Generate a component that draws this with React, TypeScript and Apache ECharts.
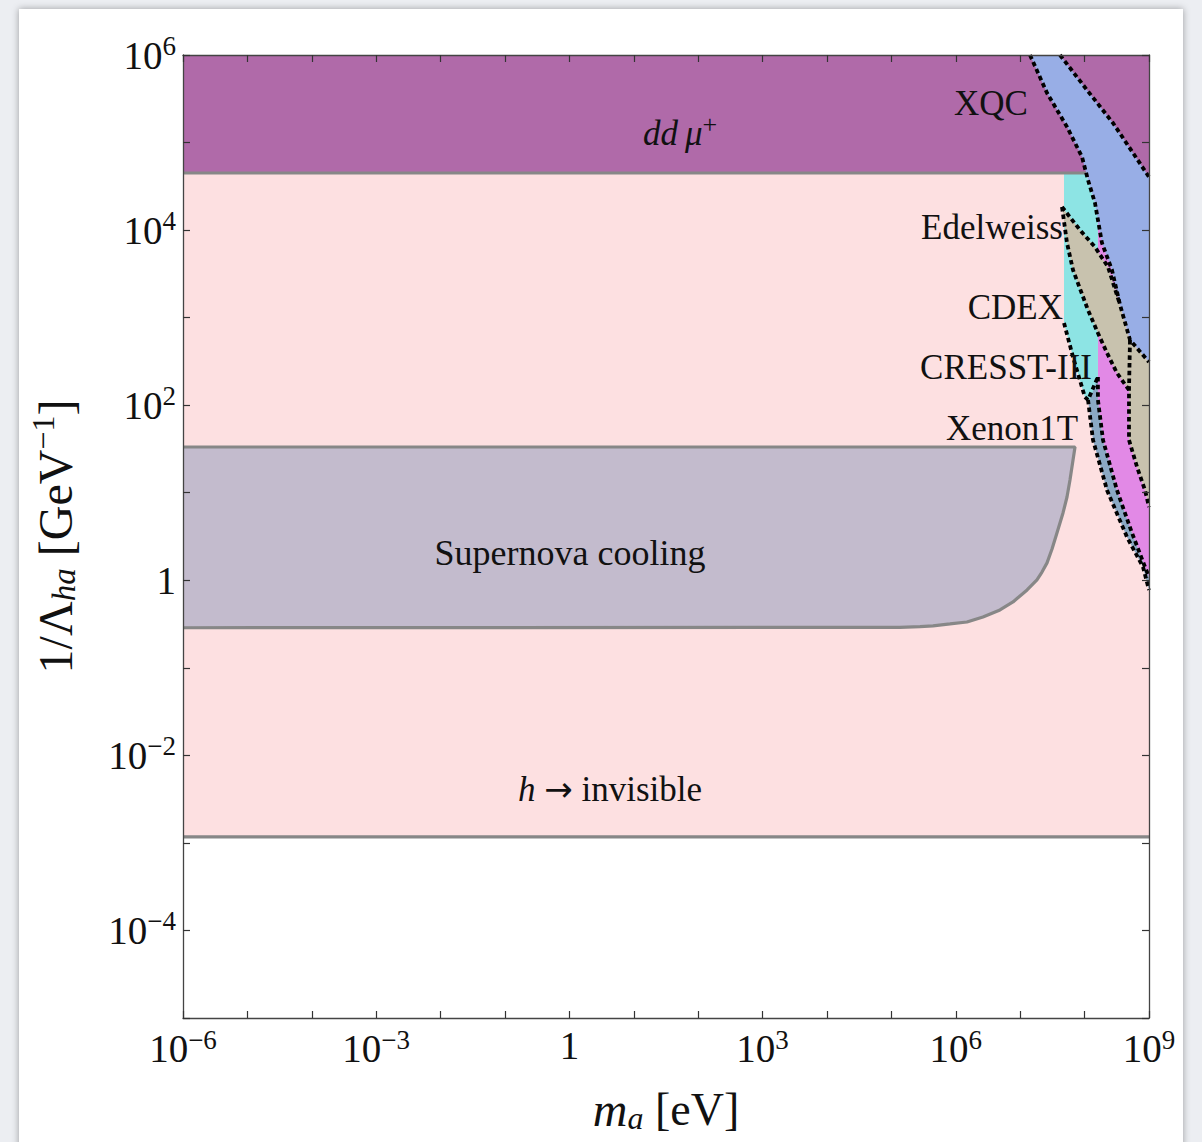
import React, { useEffect, useRef } from "react";
import * as echarts from "echarts";

// ---------- axis ranges ----------
const X_RANGE = [1e-6, 1e9]; // m_a [eV]
const Y_RANGE = [1e-5, 1e6]; // 1/Λ_ha [GeV^-1]
const X_LABEL_EXPONENTS = [-6, -3, 0, 3, 6, 9];
const Y_LABEL_EXPONENTS = [-4, -2, 0, 2, 4, 6];

// ---------- constraint levels ----------
const hInvisibleBound = 1.17e-3;
const ddMuBound = 4.49e4;
const ddMuLineEnd = 1.05e8; // where the dd mu+ boundary meets the XQC band

// ---------- supernova cooling (m_a, 1/Λ) ----------
const supernovaBoundary: [number, number][] = [
  [1e-6, 33.3], [7.1e7, 33.3], [6.61e7, 23.7], [5.93e7, 14.0], [5.33e7, 8.94],
  [4.62e7, 5.87], [3.72e7, 3.47], [3.12e7, 2.28], [2.61e7, 1.58], [2.18e7, 1.24],
  [1.82e7, 1.01], [1.28e7, 0.775], [9.93e6, 0.662], [7.73e6, 0.565], [4.85e6, 0.458],
  [2.64e6, 0.381], [1.49e6, 0.334], [8.13e5, 0.317], [4.43e5, 0.301], [2.78e5, 0.296],
  [1.36e5, 0.29], [1e-6, 0.287],
];

// ---------- direct detection regions ----------
const xqcRegion: [number, number][] = [
  [1.42e7, 1e6], [2.61e7, 3.68e5], [5.33e7, 1.51e5], [9.12e7, 6.84e4], [1.13e8, 3.73e4],
  [1.45e8, 2.04e4], [1.86e8, 7.13e3], [2.66e8, 3.5e3], [3.55e8, 1.4e3], [5.07e8, 556],
  [1e9, 311], [1e9, 4.04e4], [5.65e8, 7.6e4], [2.76e8, 1.67e5], [1.09e8, 3.98e5], [4.15e7, 1e6],
];
const cdexRegion: [number, number][] = [
  [4.79e7, 4.49e4], [1.05e8, 4.49e4], [1.45e8, 2.04e4], [1.61e8, 1.49e4], [1.61e8, 210],
  [1.21e8, 115], [1.01e8, 124], [6.61e7, 355], [4.79e7, 869],
];
const cresstRegion: [number, number][] = [
  [1.61e8, 1.49e4], [2.48e8, 4.32e3], [3.55e8, 1.4e3], [5.07e8, 556], [4.89e8, 149],
  [4.89e8, 40.1], [6.52e8, 19.7], [8.67e8, 10.7], [1e9, 6.88], [1e9, 1.09],
  [8.67e8, 1.42], [5.45e8, 3.47], [3.18e8, 10.7], [1.93e8, 40.1], [1.61e8, 115], [1.61e8, 210],
];
const xenonRegion: [number, number][] = [
  [1.61e8, 210], [1.61e8, 115], [1.93e8, 40.1], [3.18e8, 10.7], [5.45e8, 3.47],
  [8.67e8, 1.42], [1e9, 1.09], [1e9, 0.775], [8.07e8, 1.42], [4.55e8, 3.12],
  [2.23e8, 10.7], [1.35e8, 40.1], [1.13e8, 115],
];
const edelweissRegion: [number, number][] = [
  [4.46e7, 1.84e4], [8.49e7, 1.0e4], [1.45e8, 6.41e3], [2.31e8, 3.79e3], [3.55e8, 1.4e3],
  [5.07e8, 556], [1e9, 311], [1e9, 6.88], [8.67e8, 10.7], [6.52e8, 19.7], [4.89e8, 40.1],
  [4.89e8, 149], [3.18e8, 233], [2.23e8, 395], [1.61e8, 668], [1.13e8, 1.22e3],
  [6.61e7, 3.5e3], [5.33e7, 7.13e3],
];

// ---------- dashed experimental boundaries ----------
const xqcLower: [number, number][] = [
  [1.42e7, 1e6], [2.61e7, 3.68e5], [5.33e7, 1.51e5], [9.12e7, 6.84e4], [1.13e8, 3.73e4],
  [1.45e8, 2.04e4], [1.86e8, 7.13e3], [2.66e8, 3.5e3], [3.55e8, 1.4e3], [5.07e8, 556], [1e9, 311],
];
const xqcUpper: [number, number][] = [
  [4.15e7, 1e6], [1.09e8, 3.98e5], [2.76e8, 1.67e5], [5.65e8, 7.6e4], [1e9, 4.04e4],
];
const edelweissUpper: [number, number][] = [
  [4.46e7, 1.84e4], [8.49e7, 1.0e4], [1.45e8, 6.41e3], [2.31e8, 3.79e3], [3.55e8, 1.4e3],
];
const edelweissLower: [number, number][] = [
  [4.46e7, 1.84e4], [5.33e7, 7.13e3], [6.61e7, 3.5e3], [1.13e8, 1.22e3], [1.61e8, 668],
  [2.23e8, 395], [3.18e8, 233], [4.89e8, 149],
];
const cresstUpper: [number, number][] = [
  [5.07e8, 556], [4.89e8, 149], [4.89e8, 40.1], [6.52e8, 19.7], [8.67e8, 10.7], [1e9, 6.88],
];
const cdexLower: [number, number][] = [
  [4.79e7, 869], [6.61e7, 355], [1.01e8, 124], [1.13e8, 115], [1.61e8, 210],
];
const xenonLower: [number, number][] = [
  [1.13e8, 115], [1.35e8, 40.1], [2.23e8, 10.7], [4.55e8, 3.12], [8.07e8, 1.42], [1e9, 0.775],
];
const xenonUpper: [number, number][] = [
  [1.61e8, 210], [1.61e8, 115], [1.93e8, 40.1], [3.18e8, 10.7], [5.45e8, 3.47], [8.67e8, 1.42], [1e9, 1.09],
];

// ---------- styles ----------
const SERIF = "'Liberation Serif', 'DejaVu Serif', serif";
const COLORS = {
  pink: "#fde0e1",
  purple: "#b06aa9",
  supernova: "#c3bbcd",
  xqc: "#98aee6",
  cdex: "#8de4e4",
  edelweiss: "#c8c2ae",
  cresst: "#e289e6",
  xenon: "#8ba9c4",
  boundary: "#878787",
};

const hInvisibleRegion: [number, number][] = [
  [X_RANGE[0], hInvisibleBound], [X_RANGE[1], hInvisibleBound], [X_RANGE[1], Y_RANGE[1]], [X_RANGE[0], Y_RANGE[1]],
];
const ddMuRegion: [number, number][] = [
  [X_RANGE[0], ddMuBound], [X_RANGE[1], ddMuBound], [X_RANGE[1], Y_RANGE[1]], [X_RANGE[0], Y_RANGE[1]],
];

const FILLS = [
  { pts: hInvisibleRegion, color: COLORS.pink },
  { pts: ddMuRegion, color: COLORS.purple },
  { pts: supernovaBoundary, color: COLORS.supernova },
  { pts: cresstRegion, color: COLORS.cresst },
  { pts: xenonRegion, color: COLORS.xenon },
  { pts: cdexRegion, color: COLORS.cdex },
  { pts: edelweissRegion, color: COLORS.edelweiss },
  { pts: xqcRegion, color: COLORS.xqc },
];

const SOLID_LINES: [number, number][][] = [
  [[X_RANGE[0], hInvisibleBound], [X_RANGE[1], hInvisibleBound]],
  [[X_RANGE[0], ddMuBound], [ddMuLineEnd, ddMuBound]],
  supernovaBoundary,
];
const DASHED_LINES = [xqcLower, xqcUpper, edelweissUpper, edelweissLower, cresstUpper, cdexLower, xenonLower, xenonUpper];

const expOf = (v: number) => Math.round(Math.log10(v));
const tickLabel = (v: number, shown: number[]) => {
  const e = expOf(v);
  if (!shown.includes(e)) return "";
  if (e === 0) return "{b|1}";
  return `{b|10}{s|${e < 0 ? "\u2212" + -e : e}}`;
};

const tickRich = {
  b: { fontSize: 39, fontFamily: SERIF, color: "#111" },
  s: { fontSize: 27, fontFamily: SERIF, color: "#111", padding: [0, 0, 18, 0] },
};

const axisCommon = {
  type: "log" as const,
  logBase: 10,
  interval: 1,
  z: 10,
  axisLine: { show: true, lineStyle: { color: "#444", width: 1.3 } },
  axisTick: { show: true, inside: true, length: 7, interval: 0, lineStyle: { color: "#333", width: 1.2 } },
  splitLine: { show: false },
  minorTick: { show: false },
};

const option: any = {
  animation: false,
  grid: { left: 183, right: 53, top: 55, bottom: 124, containLabel: false },
  xAxis: [
    {
      ...axisCommon,
      min: X_RANGE[0],
      max: X_RANGE[1],
      position: "bottom",
      name: "{i|m}{sub|a}{r| [eV]}",
      nameLocation: "middle",
      nameGap: 66,
      nameTextStyle: {
        rich: {
          i: { fontSize: 48, fontStyle: "italic", fontFamily: SERIF, color: "#111" },
          sub: { fontSize: 32, fontStyle: "italic", fontFamily: SERIF, color: "#111", padding: [18, 0, 0, 0] },
          r: { fontSize: 46, fontFamily: SERIF, color: "#111" },
        },
      },
      axisLabel: {
        show: true,
        interval: 0,
        margin: 8,
        formatter: (v: number) => tickLabel(v, X_LABEL_EXPONENTS),
        rich: tickRich,
      },
    },
    {
      ...axisCommon,
      min: X_RANGE[0],
      max: X_RANGE[1],
      position: "top",
      axisLabel: { show: false },
    },
  ],
  yAxis: [
    {
      ...axisCommon,
      min: Y_RANGE[0],
      max: Y_RANGE[1],
      position: "left",
      name: "{r|1/Λ}{sub|ha}{r| [GeV}{sup|\u22121}{r|]}",
      nameLocation: "middle",
      nameRotate: 90,
      nameGap: 100,
      nameTextStyle: {
        rich: {
          r: { fontSize: 48, fontFamily: SERIF, color: "#111" },
          sub: { fontSize: 33, fontStyle: "italic", fontFamily: SERIF, color: "#111", padding: [18, 0, 0, 0] },
          sup: { fontSize: 32, fontFamily: SERIF, color: "#111", padding: [0, 0, 24, 0] },
        },
      },
      axisLabel: {
        show: true,
        interval: 0,
        margin: 7,
        formatter: (v: number) => tickLabel(v, Y_LABEL_EXPONENTS),
        rich: tickRich,
      },
    },
    {
      ...axisCommon,
      min: Y_RANGE[0],
      max: Y_RANGE[1],
      position: "right",
      axisLabel: { show: false },
    },
  ],
  series: [
    {
      type: "custom",
      clip: true,
      silent: true,
      z: 2,
      data: FILLS.map((f) => f.pts[0]),
      renderItem: (params: any, api: any) => {
        const f = FILLS[params.dataIndex];
        return {
          type: "polygon",
          shape: { points: f.pts.map((p) => api.coord(p)) },
          style: { fill: f.color, stroke: null },
        };
      },
    },
    ...SOLID_LINES.map((d) => ({
      type: "line",
      data: d,
      symbol: "none",
      silent: true,
      z: 3,
      clip: true,
      lineStyle: { color: COLORS.boundary, width: 3.2 },
    })),
    ...DASHED_LINES.map((d) => ({
      type: "line",
      data: d,
      symbol: "none",
      silent: true,
      z: 4,
      clip: true,
      lineStyle: { color: "#000", width: 3.8, type: [4.5, 3.2] },
    })),
  ],
  graphic: [
    {
      type: "text", x: 680, y: 133, z: 100,
      style: {
        text: "{i|dd\u2009\u03bc}{s|+}", align: "center", verticalAlign: "middle",
        rich: {
          i: { fontSize: 35, fontStyle: "italic", fontFamily: SERIF, fill: "#111" },
          s: { fontSize: 26, fontFamily: SERIF, fill: "#111", padding: [0, 0, 18, 0] },
        },
      },
    },
    { type: "text", x: 991, y: 103, z: 100, style: { text: "XQC", fontSize: 35, fontFamily: SERIF, fill: "#111", align: "center", verticalAlign: "middle" } },
    { type: "text", x: 1063, y: 227, z: 100, style: { text: "Edelweiss", fontSize: 35, fontFamily: SERIF, fill: "#111", align: "right", verticalAlign: "middle" } },
    { type: "text", x: 1063, y: 307, z: 100, style: { text: "CDEX", fontSize: 35, fontFamily: SERIF, fill: "#111", align: "right", verticalAlign: "middle" } },
    { type: "text", x: 1006, y: 367, z: 100, style: { text: "CRESST-III", fontSize: 35, fontFamily: SERIF, fill: "#111", align: "center", verticalAlign: "middle" } },
    { type: "text", x: 1012, y: 428, z: 100, style: { text: "Xenon1T", fontSize: 35, fontFamily: SERIF, fill: "#111", align: "center", verticalAlign: "middle" } },
    { type: "text", x: 570, y: 553, z: 100, style: { text: "Supernova cooling", fontSize: 36, fontFamily: SERIF, fill: "#111", align: "center", verticalAlign: "middle" } },
    {
      type: "text", x: 610, y: 789, z: 100,
      style: {
        text: "{i|h} {a|\u2192} invisible", fontSize: 35, fontFamily: SERIF, fill: "#111", align: "center", verticalAlign: "middle",
        rich: {
          i: { fontSize: 35, fontStyle: "italic", fontFamily: SERIF, fill: "#111" },
          a: { fontSize: 34, fontFamily: "'DejaVu Sans', sans-serif", fill: "#111" },
        },
      },
    },
  ],
};

export default function App() {
  const ref = useRef<HTMLDivElement>(null);
  useEffect(() => {
    const chart = echarts.init(ref.current!, null, { renderer: "svg" });
    chart.setOption(option);
    return () => chart.dispose();
  }, []);
  return (
    <div style={{ position: "absolute", left: 0, top: 0, width: 1202, height: 1142, background: "#eceef2", overflow: "hidden" }}>
      <div style={{ position: "absolute", left: 19, top: 9, width: 1164, height: 1160, background: "#fff", boxShadow: "0 0 7px rgba(0,0,0,0.35)" }} />
      <div ref={ref} style={{ position: "absolute", left: 0, top: 0, width: 1202, height: 1142 }} />
    </div>
  );
}
